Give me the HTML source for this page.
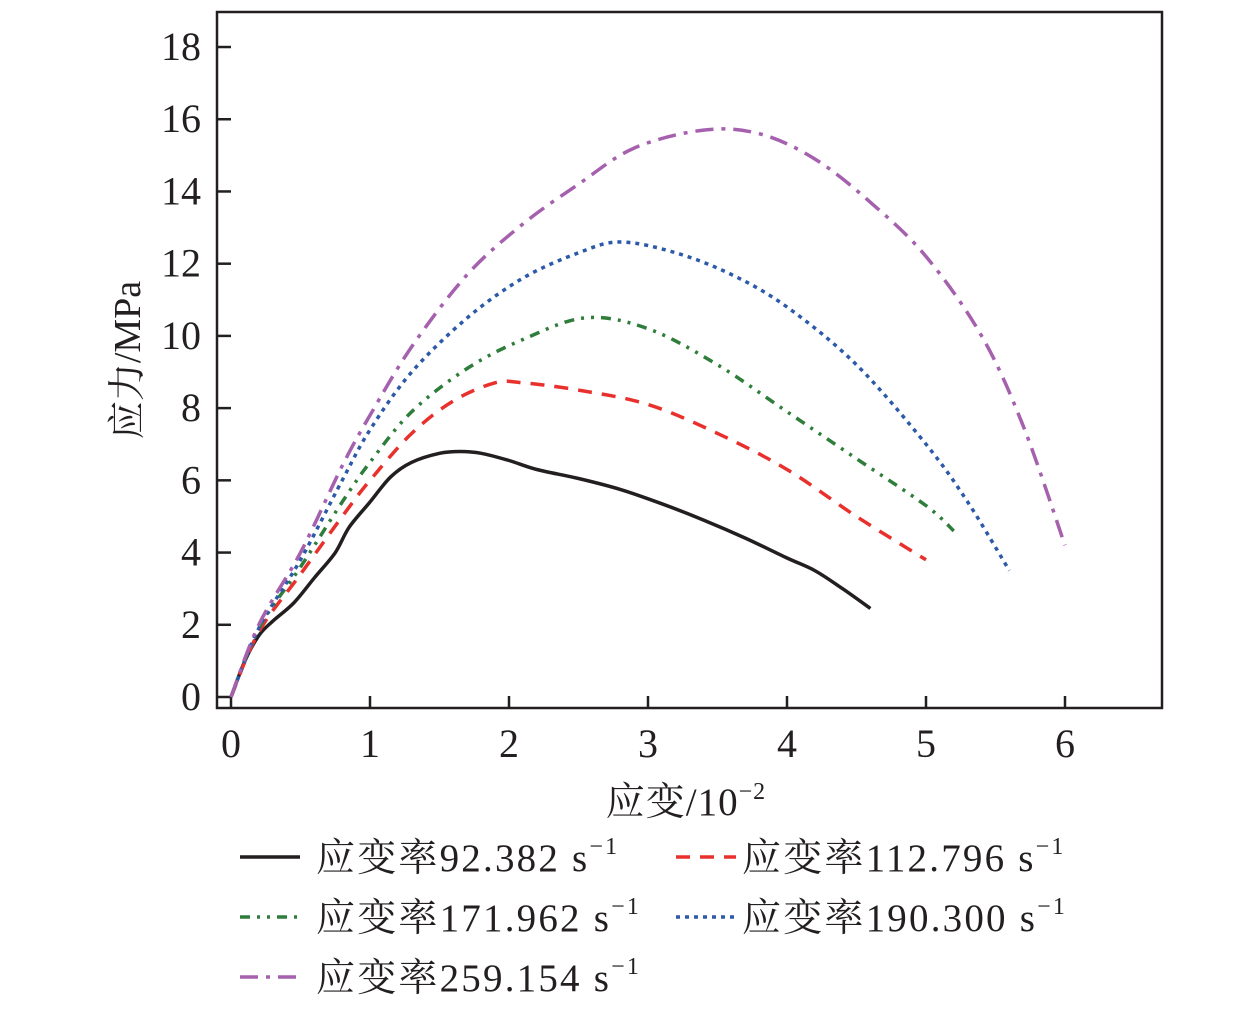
<!DOCTYPE html>
<html><head><meta charset="utf-8"><style>
body{margin:0;background:#fff;}
svg text{font-family:"Liberation Serif","Noto Serif CJK SC",serif;fill:#231f20;}
</style></head><body>
<svg width="1260" height="1006" xmlns="http://www.w3.org/2000/svg">
<rect x="217" y="12" width="945" height="696" fill="none" stroke="#231f20" stroke-width="2.5"/>
<g id="axes"></g>
<g id="series"></g>
<text transform="translate(140,360) rotate(-90)" font-size="38" text-anchor="middle">应力/MPa</text>
<text x="686" y="815" font-size="39" text-anchor="middle" letter-spacing="1">应变/10<tspan font-size="24" dy="-16">−2</tspan></text>
<g id="legend"></g>
</svg>
<script>
const xTicks=[0,1,2,3,4,5,6];
const yTicks=[0,2,4,6,8,10,12,14,16,18];
const seriesNames=["应变率92.382 s","应变率112.796 s","应变率171.962 s","应变率190.300 s","应变率259.154 s"];
const colors=["#231f20","#e8312d","#2f7d3a","#2c5aa8","#a560ae"];
const dashes=["","14,10","10,7,3,7,3,7","4,5","18,8,4,8"];
const x0=[0,0.1,0.2,0.3,0.45,0.6,0.75,0.85,1,1.15,1.3,1.5,1.65,1.8,2,2.2,2.5,2.8,3.1,3.4,3.7,4,4.2,4.4,4.6];
const y0=[0,1,1.7,2.1,2.6,3.3,4,4.7,5.4,6.1,6.5,6.75,6.8,6.75,6.55,6.3,6.05,5.75,5.35,4.9,4.4,3.85,3.5,3,2.45];
const x1=[0,0.2,0.5,0.8,1,1.3,1.6,1.9,2.1,2.5,3,3.5,4,4.5,5];
const y1=[0,1.8,3.4,5,6,7.3,8.2,8.7,8.7,8.5,8.1,7.3,6.3,5,3.8];
const x2=[0,0.2,0.5,0.8,1,1.3,1.7,2.1,2.55,3,3.5,4,4.5,5,5.2];
const y2=[0,1.9,3.6,5.4,6.5,7.9,9.1,9.9,10.5,10.2,9.2,7.9,6.6,5.3,4.6];
const x3=[0,0.2,0.5,0.8,1,1.3,1.7,2.1,2.5,2.8,3.2,3.6,4,4.5,5,5.3,5.6];
const y3=[0,1.9,3.8,6,7.4,9,10.5,11.6,12.3,12.6,12.3,11.7,10.8,9.2,7,5.4,3.5];
const x4=[0,0.2,0.5,0.8,1,1.3,1.7,2.1,2.5,2.9,3.4,3.8,4.2,4.6,5,5.4,5.7,6];
const y4=[0,2,4,6.4,7.8,9.7,11.7,13.1,14.2,15.2,15.7,15.6,14.9,13.7,12.2,10,7.5,4.2];
const XS=[x0,x1,x2,x3,x4], YS=[y0,y1,y2,y3,y4];
const NS="http://www.w3.org/2000/svg";
const sx=v=>231+v*139, sy=v=>697-v*36.11;
function mk(t,a,p){const e=document.createElementNS(NS,t);for(const k in a)e.setAttribute(k,a[k]);p.appendChild(e);return e;}
const ax=document.getElementById('axes');
xTicks.forEach(t=>{
 const l=mk('line',{x1:sx(t),x2:sx(t),y1:708,y2:696,stroke:"#231f20","stroke-width":2.5},ax);
 
 
 const tx=mk('text',{x:sx(t),y:757,"font-size":40,"text-anchor":"middle"},ax);tx.textContent=t;
 
 
});
yTicks.forEach(t=>{
 const l=mk('line',{x1:217,x2:231,y1:sy(t),y2:sy(t),stroke:"#231f20","stroke-width":2.5},ax);
 
 
 const tx=mk('text',{x:201,y:sy(t)+13,"font-size":40,"text-anchor":"end"},ax);tx.textContent=t;
 
 
});
function smooth(P){
 let d='M'+P[0][0].toFixed(1)+','+P[0][1].toFixed(1);
 for(let i=0;i<P.length-1;i++){
  const p0=P[i-1]||P[i],p1=P[i],p2=P[i+1],p3=P[i+2]||P[i+1];
  const c1=[p1[0]+(p2[0]-p0[0])/6,p1[1]+(p2[1]-p0[1])/6];
  const c2=[p2[0]-(p3[0]-p1[0])/6,p2[1]-(p3[1]-p1[1])/6];
  d+=' C'+c1[0].toFixed(1)+','+c1[1].toFixed(1)+' '+c2[0].toFixed(1)+','+c2[1].toFixed(1)+' '+p2[0].toFixed(1)+','+p2[1].toFixed(1);
 }
 return d;
}
const sg=document.getElementById('series');
XS.forEach((xs,i)=>{
 const P=xs.map((x,j)=>[sx(x),sy(YS[i][j])]);
 const p=mk('path',{d:smooth(P),fill:"none",stroke:colors[i],"stroke-width":3.5,"stroke-dasharray":dashes[i],"stroke-linejoin":"round"},sg);
 
 
});
const lg=document.getElementById('legend');
const pos=[[240,857,316],[676,857,742],[240,917,316],[676,917,742],[240,977,316]];
seriesNames.forEach((n,i)=>{
 const [x,y,tx]=pos[i];
 const l=mk('line',{x1:x,x2:x+60,y1:y,y2:y,stroke:colors[i],"stroke-width":3.5,"stroke-dasharray":dashes[i]},lg);
 
 
 const t=mk('text',{x:tx,y:y+14,"font-size":39,"letter-spacing":2.2},lg);
 t.textContent=n;
 const s=mk('tspan',{"font-size":24,dy:-17},t);s.textContent='−1';
 
 
});
</script>
</body></html>
